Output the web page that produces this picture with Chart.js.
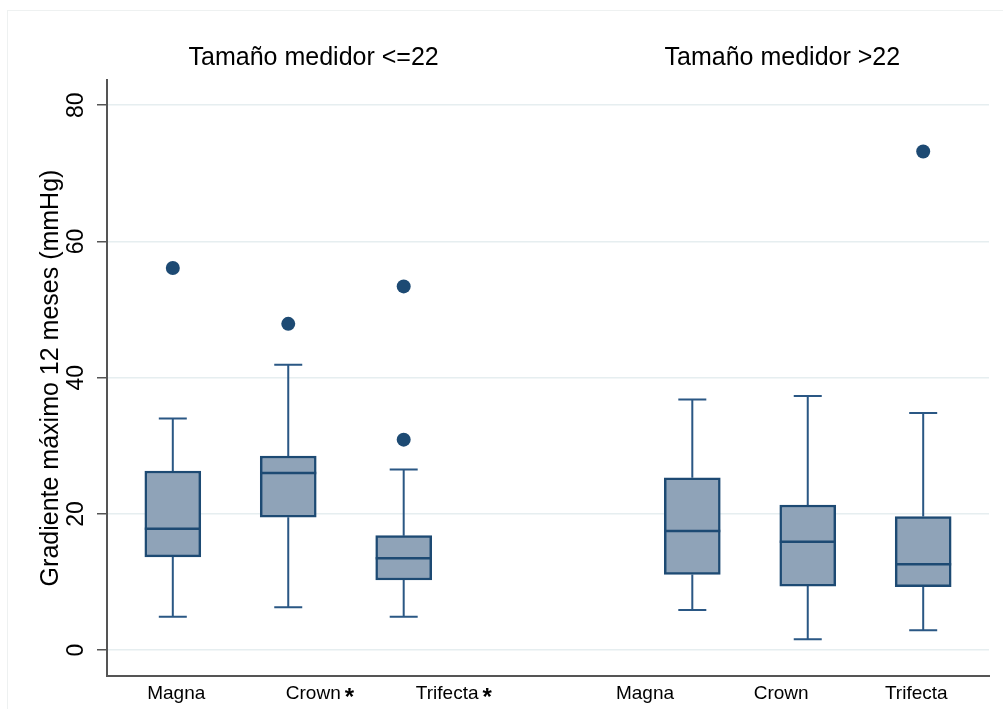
<!DOCTYPE html>
<html>
<head>
<meta charset="utf-8">
<script src="https://cdn.jsdelivr.net/npm/chart.js@4.4.0/dist/chart.umd.min.js"></script>
<style>
  html, body { margin: 0; padding: 0; background: #fff; }
  #wrap { position: relative; width: 1003px; height: 709px; }
  #frame { position: absolute; left: 7px; top: 10px; right: 0; bottom: 0; border-left: 1px solid #eef1f1; border-top: 1px solid #eef1f1; }
  canvas { position: absolute; left: 0; top: 0; }
</style>
</head>
<body>
<div id="wrap"><div id="frame"></div><canvas id="chart" width="1003" height="709"></canvas></div>
<script>
// grupos y categorias
const groups = ['Tamaño medidor <=22', 'Tamaño medidor >22'];
const groupPos = [2.22, 6.28];
const categories = ['Magna', 'Crown', 'Trifecta', 'Magna', 'Crown', 'Trifecta'];
const marks = ['', '*', '*', '', '', ''];
const labelPos = [1.03, 2.27, 3.43, 5.09, 6.27, 7.44];
const positions = [1, 2, 3, 5.5, 6.5, 7.5];

// valores de cada caja (mmHg)
const whiskerLow = [4.9, 6.3, 4.9, 5.9, 1.6, 2.9];
const q1 = [13.7, 19.5, 10.3, 11.1, 9.4, 9.3];
const median = [17.8, 26.0, 13.5, 17.5, 15.9, 12.6];
const q3 = [26.3, 28.5, 16.8, 25.3, 21.3, 19.6];
const whiskerHigh = [34.0, 41.9, 26.5, 36.8, 37.3, 34.8];
const outliers = [[56.1], [47.9], [30.9, 53.4], [], [], [73.2]];

const yTicks = [0, 20, 40, 60, 80];

const FONT = "'Liberation Sans', Arial, Helvetica, sans-serif";
const navy = '#1d4a73';
const whiskerColor = '#2a5784';

const boxParts = {
    id: 'boxParts',
    beforeDatasetsDraw(chart) {
        const {ctx, scales: {x, y}} = chart;
        ctx.save();
        ctx.strokeStyle = whiskerColor;
        ctx.lineWidth = 2;
        positions.forEach((p, i) => {
            const cx = x.getPixelForValue(p);
            const hc = 14;
            const yHi = y.getPixelForValue(whiskerHigh[i]);
            const yLo = y.getPixelForValue(whiskerLow[i]);
            ctx.beginPath();
            ctx.moveTo(cx, y.getPixelForValue(q3[i]));
            ctx.lineTo(cx, yHi);
            ctx.moveTo(cx, y.getPixelForValue(q1[i]));
            ctx.lineTo(cx, yLo);
            ctx.moveTo(cx - hc, yHi);
            ctx.lineTo(cx + hc, yHi);
            ctx.moveTo(cx - hc, yLo);
            ctx.lineTo(cx + hc, yLo);
            ctx.stroke();
        });
        ctx.restore();
    },
    afterDatasetsDraw(chart) {
        const {ctx, scales: {x, y}} = chart;
        ctx.save();
        ctx.strokeStyle = navy;
        ctx.lineWidth = 2.5;
        positions.forEach((p, i) => {
            const cx = x.getPixelForValue(p);
            const ym = y.getPixelForValue(median[i]);
            ctx.beginPath();
            ctx.moveTo(cx - 28, ym);
            ctx.lineTo(cx + 28, ym);
            ctx.stroke();
        });
        ctx.restore();
    }
};

const texts = {
    id: 'texts',
    afterDraw(chart) {
        const {ctx, scales: {x, y}} = chart;
        ctx.save();
        ctx.fillStyle = '#000';
        ctx.textBaseline = 'middle';
        ctx.textAlign = 'center';
        ctx.font = '25px ' + FONT;
        groups.forEach((g, i) => ctx.fillText(g, x.getPixelForValue(groupPos[i]), 58));

        // etiquetas de categoria
        categories.forEach((c, i) => {
            ctx.font = '19px ' + FONT;
            const w1 = ctx.measureText(c).width;
            let w2 = 0;
            if (marks[i]) {
                ctx.font = 'bold 24px ' + FONT;
                w2 = ctx.measureText(marks[i]).width + 3;
            }
            const left = x.getPixelForValue(labelPos[i]) - (w1 + w2) / 2;
            ctx.textAlign = 'left';
            ctx.font = '19px ' + FONT;
            ctx.fillText(c, left, 694);
            if (marks[i]) {
                ctx.font = 'bold 24px ' + FONT;
                ctx.fillText(marks[i], left + w1 + 4, 698);
            }
        });

        // ticks del eje y, girados
        ctx.font = '23px ' + FONT;
        ctx.textAlign = 'center';
        yTicks.forEach(t => {
            ctx.save();
            ctx.translate(77, y.getPixelForValue(t));
            ctx.rotate(-Math.PI / 2);
            ctx.fillText(String(t), 0, 0);
            ctx.restore();
        });
        ctx.restore();
    }
};

const outlierPoints = [];
outliers.forEach((list, i) => list.forEach(v => outlierPoints.push({x: positions[i], y: v})));

new Chart(document.getElementById('chart'), {
    type: 'bar',
    data: {
        datasets: [
            {
                type: 'bar',
                data: positions.map((p, i) => ({x: p, y: [q1[i], q3[i]]})),
                backgroundColor: '#8fa3b8',
                borderColor: navy,
                borderWidth: 2.5,
                borderSkipped: false,
                barThickness: 56
            },
            {
                type: 'scatter',
                data: outlierPoints,
                pointRadius: 7,
                pointBackgroundColor: navy,
                pointBorderWidth: 0
            }
        ]
    },
    options: {
        responsive: false,
        animation: false,
        layout: { padding: { left: 0, right: 14, top: 80, bottom: 33 } },
        plugins: { legend: { display: false }, tooltip: { enabled: false } },
        scales: {
            x: {
                type: 'linear',
                offset: false,
                min: 0.43,
                max: 8.07,
                grid: { display: false, offset: false },
                ticks: { display: false },
                border: { color: '#555', width: 2 },
                afterFit(scale) { scale.height = 0; }
            },
            y: {
                min: -3.8,
                max: 83.7,
                afterBuildTicks(scale) { scale.ticks = yTicks.map(v => ({value: v})); },
                ticks: { display: false },
                grid: { color: '#e6eef0', lineWidth: 1.5, tickLength: 10, tickColor: '#555', tickWidth: 1.5 },
                border: { color: '#555', width: 2 },
                title: {
                    display: true,
                    text: 'Gradiente máximo 12 meses (mmHg)',
                    color: '#000',
                    font: { size: 25, family: FONT },
                    padding: { top: 36, bottom: 0 }
                },
                afterFit(scale) { scale.width = 107; }
            }
        }
    },
    plugins: [boxParts, texts]
});
</script>
</body>
</html>
